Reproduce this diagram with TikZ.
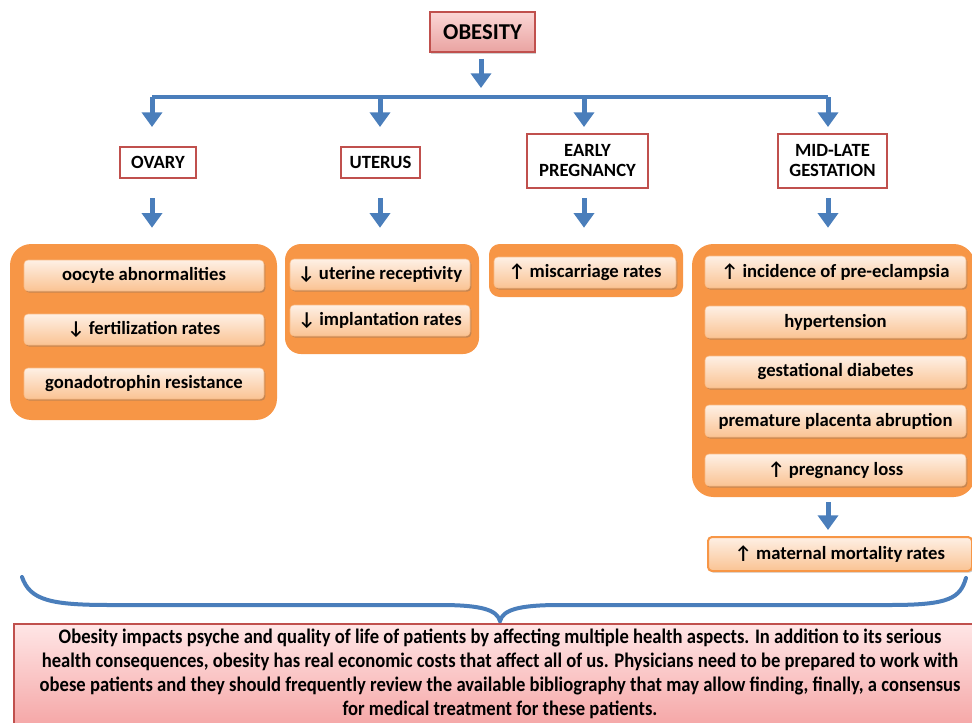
\documentclass[tikz,border=0pt]{standalone}
\usepackage{fontspec}
\setmainfont{Carlito}
\newfontfamily\narrowfont{Carlito}[FakeStretch=0.9]
\usetikzlibrary{arrows.meta,shadows}
\definecolor{cblue}{HTML}{4A7EBB}
\definecolor{cred}{HTML}{C0504D}
\definecolor{corange}{HTML}{F79646}
\definecolor{peachtop}{HTML}{FEF0E5}
\definecolor{peachbot}{HTML}{FAC393}
\definecolor{pinktop}{HTML}{FBD6D5}
\definecolor{pinkbot}{HTML}{E9A3A1}
\definecolor{sumtop}{HTML}{FFE6E6}
\definecolor{sumbot}{HTML}{F5A7A7}
\begin{document}
\begin{tikzpicture}[x=0.75pt,y=-0.75pt,
  barrow/.style={draw=cblue,line width=3.75pt,-{Triangle[width=15pt,length=11pt]}},
  hline/.style={draw=cblue,line width=2.6pt},
  header/.style={draw=cred,line width=1.5pt,fill=white,font=\bfseries\fontsize{14}{15}\selectfont,align=center,inner sep=0pt},
  bigbox/.style={fill=corange,rounded corners=16pt,inner sep=0pt},
  item/.style={rounded corners=3pt,top color=peachtop,bottom color=peachbot,draw=peachbot!80!corange,line width=0.4pt,
    font=\bfseries\fontsize{14}{15}\selectfont,inner sep=0pt,minimum height=23.25pt,
    drop shadow={shadow xshift=1pt,shadow yshift=-1.2pt,opacity=0.35,fill=black!60}},
]
\useasboundingbox (0,0) rectangle (972,722);
% top
\node[draw=cred,line width=1.3pt,top color=pinktop,bottom color=pinkbot,minimum width=78.75pt,minimum height=30pt,inner sep=0pt,
  font=\bfseries\fontsize{17}{18}\selectfont,
  drop shadow={shadow xshift=1pt,shadow yshift=-1.2pt,opacity=0.3,fill=black!60}] (obesity) at (482.5,32) {OBESITY};
\coordinate (hl1) at (152,97);
\coordinate (hl2) at (380,97);
\coordinate (hl3) at (584,97);
\coordinate (hl4) at (828,97);
\coordinate (hlc) at (481,97);
\draw[hline] (hl1) -- (hl4);
\draw[barrow,shorten <=4.5pt,shorten >=6.75pt] (obesity.south -| hlc) -- (hlc);
% headers
\node[header,minimum width=57pt,minimum height=23.25pt] (ovary) at (158,162.5) {OVARY};
\node[header,minimum width=59.25pt,minimum height=23.25pt] (uterus) at (380.5,162.5) {UTERUS};
\node[header,minimum width=90.75pt,minimum height=40.5pt] (early) at (587.5,161) {EARLY\\PREGNANCY};
\node[header,minimum width=81.75pt,minimum height=40.5pt] (midlate) at (832.5,161) {MID-LATE\\GESTATION};
\draw[barrow,shorten >=14.25pt] (hl1) -- (hl1 |- ovary.north);
\draw[barrow,shorten >=14.25pt] (hl2) -- (hl2 |- uterus.north);
\draw[barrow,shorten >=4.5pt] (hl3) -- (hl3 |- early.north);
\draw[barrow,shorten >=4.5pt] (hl4) -- (hl4 |- midlate.north);
% big boxes
\node[bigbox,minimum width=200.25pt,minimum height=132pt] (ovbox) at (143.5,332) {};
\node[bigbox,minimum width=145.5pt,minimum height=82.5pt,rounded corners=12pt] (utbox) at (382,299) {};
\node[bigbox,minimum width=145.5pt,minimum height=39.75pt,rounded corners=8pt] (epbox) at (586,270.5) {};
\node[bigbox,minimum width=212.25pt,minimum height=189.75pt] (mlbox) at (833.5,370.5) {};
\draw[barrow,shorten <=14.25pt,shorten >=12pt] (hl1 |- ovary.south) -- (hl1 |- ovbox.north);
\draw[barrow,shorten <=14.25pt,shorten >=12pt] (hl2 |- uterus.south) -- (hl2 |- utbox.north);
\draw[barrow,shorten <=6.75pt,shorten >=12pt] (hl3 |- early.south) -- (hl3 |- epbox.north);
\draw[barrow,shorten <=6.75pt,shorten >=12pt] (hl4 |- midlate.south) -- (hl4 |- mlbox.north);
% items
\node[item,minimum width=180pt] (o1) at (144,275.5) {oocyte abnormalities};
\node[item,minimum width=180pt] (o2) at (144,329.5) {↓ fertilization rates};
\node[item,minimum width=180pt] (o3) at (144,383.5) {gonadotrophin resistance};
\node[item,minimum width=135pt] (u1) at (380,274.5) {↓ uterine receptivity};
\node[item,minimum width=135pt] (u2) at (380,320.5) {↓ implantation rates};
\node[item,minimum width=136.5pt] (e1) at (585,272.5) {↑ miscarriage rates};
\node[item,minimum width=195.75pt,minimum height=24pt] (m1) at (835.5,272) {↑ incidence of pre-eclampsia};
\node[item,minimum width=195.75pt,minimum height=24pt] (m2) at (835.5,322) {hypertension};
\node[item,minimum width=195.75pt,minimum height=24pt] (m3) at (835.5,372) {gestational diabetes};
\node[item,minimum width=195.75pt,minimum height=24pt] (m4) at (835.5,421) {premature placenta abruption};
\node[item,minimum width=195.75pt,minimum height=24pt] (m5) at (835.5,470) {↑ pregnancy loss};
\node[item,draw=corange,line width=1.5pt,minimum width=198pt,minimum height=25.5pt] (mort) at (840,554) {↑ maternal mortality rates};
\draw[barrow,shorten <=3.75pt,shorten >=4.5pt] (hl4 |- mlbox.south) -- (hl4 |- mort.north);
% brace
\coordinate (brL) at (22,577);
\coordinate (brT) at (500,621);
\coordinate (brR) at (966,578);
\draw[cblue,line width=3pt,line cap=round] (brL) .. controls (30,600) and (50,605) .. (110,605) -- (440,605)
  .. controls (482,605) and (497,610) .. (brT) .. controls (503,610) and (518,605) .. (560,605) -- (890,605)
  .. controls (950,605) and (960,598) .. (brR);
% summary
\node[draw=cred,line width=1.2pt,top color=sumtop,bottom color=sumbot,minimum width=720.75pt,minimum height=75.75pt,inner sep=0pt] (summary) at (494.5,674.5) {};
\node[align=center,font=\narrowfont\bfseries\fontsize{15.5}{18}\selectfont,anchor=north] (sumtext) at (500,624.5)
{Obesity impacts psyche and quality of life of patients by affecting multiple health aspects. In addition to its serious\\
health consequences, obesity has real economic costs that affect all of us. Physicians need to be prepared to work with\\
obese patients and they should frequently review the available bibliography that may allow finding, finally, a consensus\\
for medical treatment for these patients.};
\end{tikzpicture}
\end{document}
